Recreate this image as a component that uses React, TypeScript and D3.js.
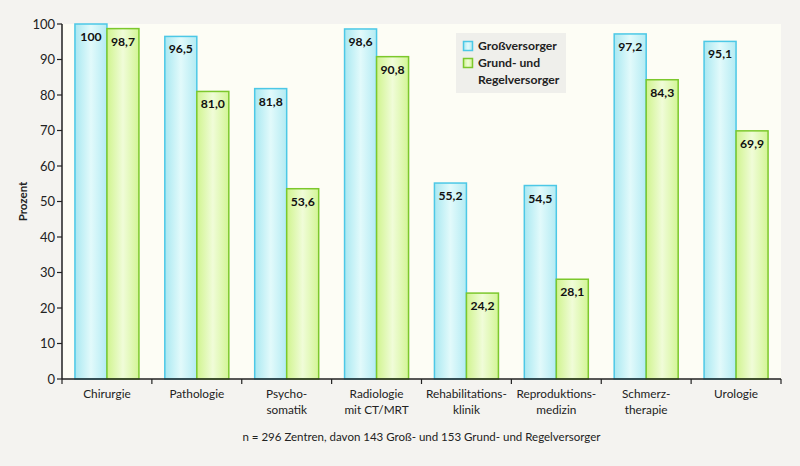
import React from "react";
import * as d3 from "d3";

const categories: string[][] = [
  ["Chirurgie"],
  ["Pathologie"],
  ["Psycho-", "somatik"],
  ["Radiologie", "mit CT/MRT"],
  ["Rehabilitations-", "klinik"],
  ["Reproduktions-", "medizin"],
  ["Schmerz-", "therapie"],
  ["Urologie"],
];
const grossValues = [100, 96.5, 81.8, 98.6, 55.2, 54.5, 97.2, 95.1];
const grundValues = [98.7, 81.0, 53.6, 90.8, 24.2, 28.1, 84.3, 69.9];
const yTicks = [0, 10, 20, 30, 40, 50, 60, 70, 80, 90, 100];
const seriesNames = ["Großversorger", ["Grund- und", "Regelversorger"]];
const yLabel = "Prozent";
const footnote = "n = 296 Zentren, davon 143 Groß- und 153 Grund- und Regelversorger";

const W = 800, H = 466;
const L = 62, R = 781, T = 24, B = 379;
const FONT = "Lato, 'Open Sans', sans-serif";

const fmt = (v: number) => (v === 100 ? "100" : v.toFixed(1).replace(".", ","));

export default function App() {
  const x = d3.scaleBand<number>().domain(d3.range(categories.length)).range([L, R]).paddingInner(0).paddingOuter(0);
  const y = d3.scaleLinear().domain([0, 100]).range([B, T]);
  const bw = 32;
  const series = [
    { vals: grossValues, fill: "url(#gBlue)", stroke: "#4cc8e6", off: -bw },
    { vals: grundValues, fill: "url(#gGreen)", stroke: "#7cc82c", off: 0 },
  ];
  return (
    <svg width={W} height={H} style={{ position: "absolute", left: 0, top: 0, display: "block" }} fontFamily={FONT}>
      <defs>
        <linearGradient id="gBlue" x1="0" x2="1" y1="0" y2="0">
          <stop offset="0" stopColor="#a9e8f1" />
          <stop offset="0.5" stopColor="#e2fafb" />
          <stop offset="1" stopColor="#b3ebf3" />
        </linearGradient>
        <linearGradient id="gGreen" x1="0" x2="1" y1="0" y2="0">
          <stop offset="0" stopColor="#d0f48e" />
          <stop offset="0.5" stopColor="#f0fcd8" />
          <stop offset="1" stopColor="#d3f596" />
        </linearGradient>
      </defs>
      <rect x={0} y={0} width={W} height={H} fill="#f4f3f0" />
      <rect x={L} y={T} width={R - L} height={B - T} fill="#fdfdf5" />
      {series.map((s, si) =>
        s.vals.map((v, i) => {
          const cx = (x(i) as number) + x.bandwidth() / 2;
          const x0 = cx + s.off;
          return (
            <g key={`${si}-${i}`}>
              <rect x={x0} y={y(v)} width={bw} height={B - y(v)} fill={s.fill} stroke={s.stroke} strokeWidth={1.5} />
              <text x={x0 + bw / 2} y={y(v) + 17} textAnchor="middle" fontWeight="bold" fontSize={12.2} fill="#111">
                {fmt(v)}
              </text>
            </g>
          );
        })
      )}
      {/* y axis */}
      <line x1={L} x2={L} y1={T} y2={B} stroke="#222" strokeWidth={1.5} />
      {yTicks.map((t) => (
        <g key={t}>
          <line x1={L - 5} x2={L} y1={y(t)} y2={y(t)} stroke="#222" strokeWidth={1.2} />
          <text x={L - 7} y={y(t) + 4.5} textAnchor="end" fontSize={13} fill="#222">{t}</text>
        </g>
      ))}
      {/* x axis */}
      <line x1={L} x2={R} y1={B} y2={B} stroke="#222" strokeWidth={1.5} />
      {d3.range(categories.length + 1).map((i) => {
        const xx = i < categories.length ? (x(i) as number) : R;
        return <line key={i} x1={xx} x2={xx} y1={B} y2={B + 5} stroke="#222" strokeWidth={1.2} />;
      })}
      {categories.map((c, i) => (
        <text key={i} x={(x(i) as number) + x.bandwidth() / 2} y={398} textAnchor="middle" fontSize={11.8} fill="#222">
          {c.map((line, j) => (
            <tspan key={j} x={(x(i) as number) + x.bandwidth() / 2} dy={j === 0 ? 0 : 15.5}>{line}</tspan>
          ))}
        </text>
      ))}
      <text transform={`translate(27,${(T + B) / 2}) rotate(-90)`} textAnchor="middle" fontSize={11.5} fontWeight="bold" fill="#222">
        {yLabel}
      </text>
      {/* legend */}
      <rect x={456} y={33} width={110} height={60} fill="#efefeb" />
      <rect x={463.5} y={41.5} width={9} height={9} fill="url(#gBlue)" stroke="#4cc8e6" strokeWidth={1.5} />
      <text x={478} y={50} fontSize={12.2} fontWeight="bold" fill="#222">{seriesNames[0] as string}</text>
      <rect x={463.5} y={58.5} width={9} height={9} fill="url(#gGreen)" stroke="#7cc82c" strokeWidth={1.5} />
      <text x={478} y={67} fontSize={12.2} fontWeight="bold" fill="#222">
        <tspan x={478}>{(seriesNames[1] as string[])[0]}</tspan>
        <tspan x={478} dy={17}>{(seriesNames[1] as string[])[1]}</tspan>
      </text>
      <text x={(L + R) / 2} y={441} textAnchor="middle" fontSize={11.5} fill="#222">{footnote}</text>
    </svg>
  );
}
